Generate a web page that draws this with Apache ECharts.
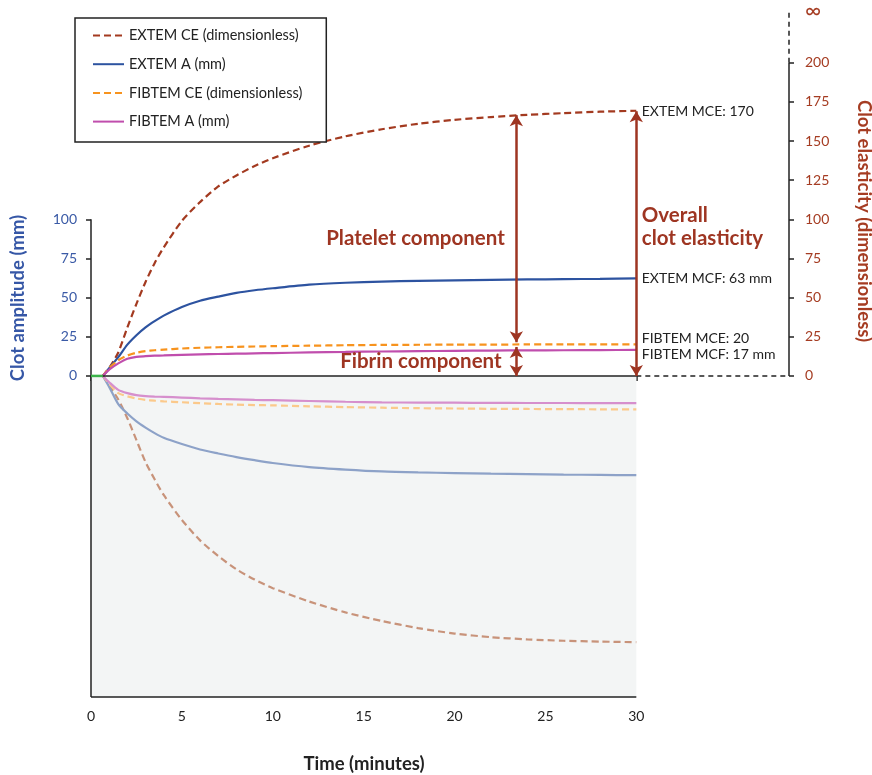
<!DOCTYPE html>
<html>
<head>
<meta charset="utf-8">
<script src="https://cdn.jsdelivr.net/npm/echarts@6/dist/echarts.min.js"></script>
<style>
html, body { margin: 0; padding: 0; background: #fff; }
#chart { width: 872px; height: 775px; }
</style>
</head>
<body>
<div id="chart"></div>
<script>
// time in minutes, shared by every trace
var times = [0.65, 1, 1.5, 2, 2.5, 3, 3.5, 4, 5, 6, 7, 8, 9, 10, 12, 14, 16, 18, 20, 22, 24, 26, 28, 30];

// upper traces
var extemCE  = [0, 5, 15, 31, 46, 60, 72, 82, 99, 111, 121, 128, 134, 139, 147, 153, 157.5, 161, 163.5, 165.3, 166.7, 167.8, 168.7, 169.3];
var extemA   = [0, 5, 12, 20, 26, 31, 35, 38.5, 44, 48, 50.6, 53, 54.7, 56, 58.3, 59.5, 60.2, 60.7, 61, 61.3, 61.6, 61.8, 62, 62.3];
var fibtemCE = [0, 5, 10, 13, 14.8, 15.8, 16.4, 16.8, 17.5, 18, 18.3, 18.6, 18.8, 19, 19.3, 19.6, 19.8, 19.9, 20, 20, 20.1, 20.1, 20.2, 20.2];
var fibtemA  = [0, 4, 8, 11, 12.2, 12.6, 12.9, 13.1, 13.5, 13.8, 14, 14.2, 14.4, 14.6, 15, 15.3, 15.6, 15.8, 16, 16.2, 16.3, 16.4, 16.5, 16.6];

// lower (mirrored) traces
var extemCELow  = [0, -6, -15, -27, -41, -55, -66, -76, -92, -105, -115, -123.5, -130, -135.5, -144, -151, -156.5, -161, -164.5, -166.8, -168.2, -169.1, -169.6, -170];
var extemALow   = [0, -7, -18, -24, -29, -33, -36.5, -39.5, -43.5, -47, -49.5, -51.8, -53.8, -55.6, -58.2, -59.8, -61, -61.6, -62, -62.4, -62.7, -63, -63.2, -63.4];
var fibtemCELow = [0, -5, -11, -13, -14.4, -15.3, -15.8, -16.2, -16.8, -17.4, -17.9, -18.3, -18.6, -18.8, -19.4, -19.9, -20.3, -20.6, -20.8, -21, -21.1, -21.2, -21.3, -21.3];
var fibtemALow  = [0, -4, -8.9, -11, -12.3, -12.9, -13.2, -13.4, -13.8, -14.3, -14.7, -15, -15.3, -15.5, -16, -16.5, -16.9, -17, -17.1, -17.2, -17.3, -17.3, -17.4, -17.4];

// clotting time (flat green start)
var clotTime = [[0, 0], [0.65, 0]];

// tick labels
var timeTicks = [0, 5, 10, 15, 20, 25, 30];
var ampTicks = [0, 25, 50, 75, 100];
var ceTicks = [0, 25, 50, 75, 100, 125, 150, 175, 200];

// reported maxima
var extemMCE = 170, extemMCF = 63, fibtemMCE = 20, fibtemMCF = 17;

var Y_MIN = -205, Y_MAX = 233, X_END = 30, X_MAX = 38.4;
var FONT = 'Lato, "Open Sans", sans-serif';
var RED = '#9e3522';
var INK = '#222';

function pairs(ys) {
	return times.map(function(t, i) { return [t, ys[i]]; });
}

function trace(name, ys, color, dashed) {
	return {
		name: name,
		type: 'line',
		data: pairs(ys),
		smooth: 0.25,
		symbol: 'none',
		silent: true,
		z: 3,
		lineStyle: { color: color, width: 2.2, type: dashed ? [7, 4] : 'solid' },
		itemStyle: { color: color }
	};
}

function plainLine(data, dashed) {
	return {
		type: 'line',
		data: data,
		symbol: 'none',
		silent: true,
		clip: false,
		z: 4,
		lineStyle: { color: INK, width: 1.5, type: dashed ? [5, 4] : 'solid' }
	};
}

function note(text, t, v, style) {
	return {
		coord: [t, v],
		symbolSize: 0,
		label: Object.assign({
			show: true,
			formatter: text,
			position: [0, 0],
			align: 'left',
			verticalAlign: 'middle',
			fontFamily: FONT,
			fontSize: 14,
			color: INK
		}, style || {})
	};
}

var bigText = { fontSize: 20.5, fontWeight: 'bold', color: RED };

var chart = echarts.init(document.getElementById('chart'));

var option = {
	animation: false,
	backgroundColor: '#fff',
	grid: { left: 91, right: 83, top: 11, bottom: 78 },
	legend: {
		orient: 'vertical',
		left: 75,
		top: 18,
		padding: [10, 24, 13, 17],
		itemWidth: 31,
		itemHeight: 14,
		itemGap: 13.7,
		borderColor: '#222',
		borderWidth: 1.5,
		borderRadius: 0,
		backgroundColor: '#fff',
		itemStyle: { opacity: 0 },
		textStyle: { fontFamily: FONT, fontSize: 14.5, color: INK },
		data: ['EXTEM CE (dimensionless)', 'EXTEM A (mm)', 'FIBTEM CE (dimensionless)', 'FIBTEM A (mm)']
	},
	xAxis: {
		type: 'value',
		min: 0,
		max: X_MAX,
		axisLine: { show: false },
		splitLine: { show: false },
		axisTick: { show: true, length: 5, customValues: timeTicks, lineStyle: { color: INK, width: 1.5 } },
		axisLabel: { customValues: timeTicks, margin: 12, fontFamily: FONT, fontSize: 14, color: INK }
	},
	yAxis: [{
		type: 'value',
		position: 'left',
		min: Y_MIN,
		max: Y_MAX,
		axisLine: { show: false },
		splitLine: { show: false },
		axisTick: { show: true, length: 5, customValues: ampTicks, lineStyle: { color: INK, width: 1.5 } },
		axisLabel: { customValues: ampTicks, margin: 14, fontFamily: FONT, fontSize: 14, color: '#3a5aa6' }
	}, {
		type: 'value',
		position: 'right',
		min: Y_MIN,
		max: Y_MAX,
		axisLine: { show: false },
		splitLine: { show: false },
		axisTick: { show: true, length: 5, customValues: ceTicks, lineStyle: { color: INK, width: 1.5 } },
		axisLabel: {
			customValues: ceTicks.concat([Y_MAX]),
			margin: 16,
			fontFamily: FONT,
			fontSize: 14,
			color: '#a53c22',
			formatter: function(v) { return v > 210 ? '{inf|\u221e}' : String(v); },
			rich: { inf: { fontSize: 22, color: '#a53c22', fontFamily: FONT } }
		}
	}],
	graphic: [{
		type: 'text', x: 18, y: 298, rotation: Math.PI / 2,
		style: { text: 'Clot amplitude (mm)', fill: '#3657a6', font: 'bold 18.5px ' + FONT, textAlign: 'center', textVerticalAlign: 'middle' }
	}, {
		type: 'text', x: 864, y: 221, rotation: -Math.PI / 2,
		style: { text: 'Clot elasticity (dimensionless)', fill: '#a53c22', font: 'bold 18.5px ' + FONT, textAlign: 'center', textVerticalAlign: 'middle' }
	}, {
		type: 'text', x: 364, y: 764,
		style: { text: 'Time (minutes)', fill: INK, font: 'bold 18.5px ' + FONT, textAlign: 'center', textVerticalAlign: 'middle' }
	}],
	series: [
		// shaded lower half
		{
			type: 'line', data: [], silent: true, z: 1,
			markArea: {
				silent: true,
				itemStyle: { color: '#f3f5f5' },
				data: [[{ coord: [0, Y_MIN] }, { coord: [X_END, 0] }]]
			}
		},
		// mirrored traces (drawn under the upper ones)
		trace('EXTEM CE low', extemCELow, '#c8937a', true),
		trace('EXTEM A low', extemALow, '#8da2c8', false),
		trace('FIBTEM CE low', fibtemCELow, '#fbc98b', true),
		trace('FIBTEM A low', fibtemALow, '#d68fcd', false),
		// main traces
		trace('EXTEM CE (dimensionless)', extemCE, '#a33a20', true),
		trace('EXTEM A (mm)', extemA, '#2d53a0', false),
		trace('FIBTEM CE (dimensionless)', fibtemCE, '#f7931e', true),
		trace('FIBTEM A (mm)', fibtemA, '#c04ead', false),
		{
			type: 'line', data: clotTime, symbol: 'none', silent: true, z: 5, clip: false,
			lineStyle: { color: '#3cb44a', width: 2.5 }
		},
		// axis lines
		plainLine([[0, Y_MIN], [0, 100]], false),
		plainLine([[0, Y_MIN], [X_END, Y_MIN]], false),
		plainLine([[0, 0], [X_END, 0]], false),
		plainLine([[X_END, 0], [X_MAX, 0]], true),
		plainLine([[X_MAX, 0], [X_MAX, 200]], false),
		plainLine([[X_MAX, 200], [X_MAX, Y_MAX]], true),
		// annotations
		{
			type: 'line', data: [], silent: true, z: 6,
			markLine: {
				silent: true,
				symbol: ['arrow', 'arrow'],
				symbolSize: [10, 11],
				label: { show: false },
				lineStyle: { color: RED, width: 2.5, type: 'solid' },
				data: [
					[{ coord: [23.4, 166.5] }, { coord: [23.4, fibtemMCE + 1.5] }],
					[{ coord: [23.4, 18.5] }, { coord: [23.4, 0] }],
					[{ coord: [X_END, extemMCE - 1] }, { coord: [X_END, 0] }]
				]
			},
			markPoint: {
				silent: true,
				symbol: 'circle',
				data: [
					note('EXTEM MCE: ' + extemMCE, 30.3, 169),
					note('EXTEM MCF: ' + extemMCF + ' mm', 30.3, 62.5),
					note('FIBTEM MCE: ' + fibtemMCE, 30.3, 24),
					note('FIBTEM MCF: ' + fibtemMCF + ' mm', 30.3, 13.4),
					note('Overall\nclot elasticity', 30.3, 95, Object.assign({ lineHeight: 23 }, bigText)),
					note('Platelet component', 17.85, 87.5, Object.assign({ align: 'center' }, bigText)),
					note('Fibrin component', 18.15, 9, Object.assign({ align: 'center' }, bigText))
				]
			}
		}
	]
};

chart.setOption(option);
</script>
</body>
</html>
